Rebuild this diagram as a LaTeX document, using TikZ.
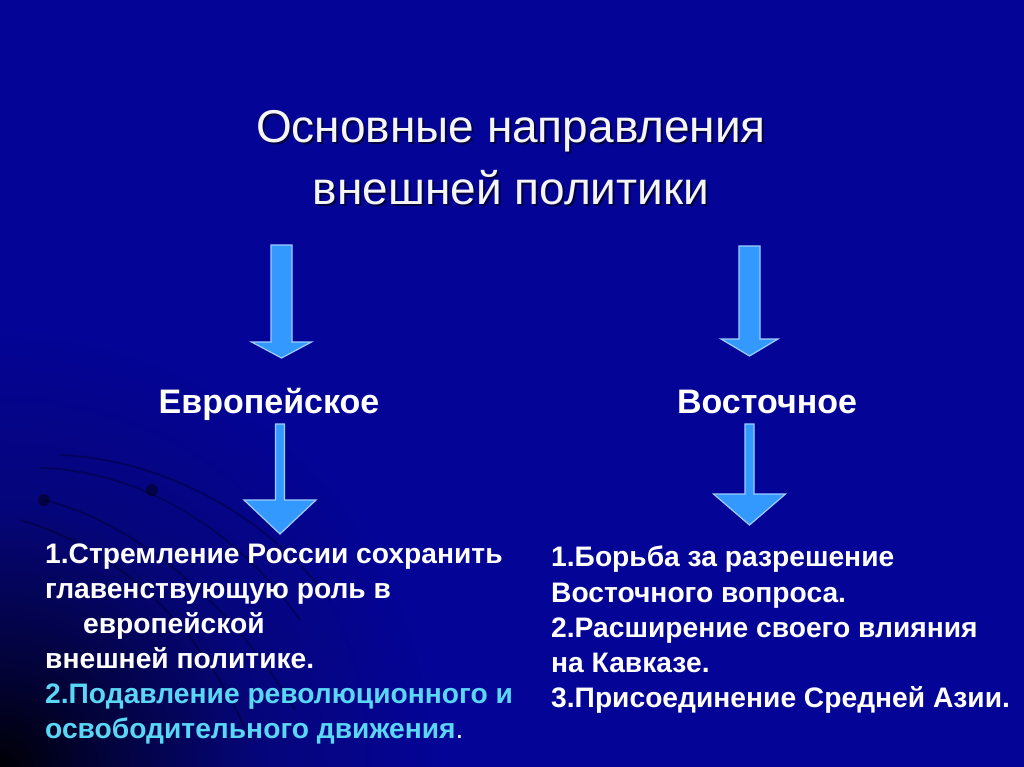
\documentclass[tikz,border=0pt]{standalone}
\usepackage{fontspec}
\setmainfont{Liberation Sans}
\definecolor{bgblue}{RGB}{4,4,150}
\definecolor{arrowfill}{RGB}{51,153,255}
\definecolor{arrowedge}{RGB}{160,205,255}
\definecolor{cyantext}{RGB}{90,215,245}
\definecolor{titlewhite}{RGB}{245,245,245}
\pgfdeclareradialshading{cornershade}{\pgfpoint{0bp}{0bp}}{rgb(0bp)=(0,0,0.02); rgb(5bp)=(0.01,0.01,0.22); rgb(13bp)=(0.02,0.02,0.48); rgb(22bp)=(0.016,0.016,0.588); rgb(50bp)=(0.016,0.016,0.588)}
\tikzset{
  blockarrow/.style={fill=arrowfill, draw=arrowedge, line width=1.2pt, line join=miter},
  titletext/.style={font=\fontsize{46}{50}\selectfont, text=titlewhite, inner sep=0pt, anchor=base},
  titleshadow/.style={font=\fontsize{46}{50}\selectfont, text=black, opacity=0.55, inner sep=0pt, anchor=base},
  labeltext/.style={font=\fontsize{34}{38}\selectfont\bfseries, text=white, inner sep=0pt, anchor=base},
  bodytext/.style={font=\fontsize{28.2}{32}\selectfont\bfseries, text=white, inner sep=0pt, anchor=base west},
  cyanline/.style={bodytext, text=cyantext},
  decocurve/.style={draw=black, opacity=0.3, line width=1.8pt},
  decodot/.style={fill=black, opacity=0.45}
}
% #1 centre x, #2 half shaft, #3 top, #4 head base, #5 half head, #6 tip
\newcommand\downarrowshape[6]{%
  \filldraw[blockarrow] ({#1-#2},#3) -- ({#1+#2},#3) -- ({#1+#2},#4) -- ({#1+#5},#4)
    -- (#1,#6) -- ({#1-#5},#4) -- ({#1-#2},#4) -- cycle;}
\begin{document}
\begin{tikzpicture}[x=1pt,y=-1pt]
\useasboundingbox (0,0) rectangle (1024,767);
\fill[bgblue] (0,0) rectangle (1024,767);
\begin{scope}
  \clip (0,0) rectangle (1024,767);
  \shade[shading=cornershade] (0,767) circle (500);
  % decorative curves
  \draw[decocurve] (40,468) .. controls (130,470) and (230,520) .. (300,620);
  \draw[decocurve] (43,500) .. controls (130,520) and (230,600) .. (295,710);
  \draw[decocurve] (20,520) .. controls (110,545) and (200,620) .. (250,740);
  \draw[decocurve] (60,455) .. controls (170,460) and (270,520) .. (330,600);
  \fill[decodot] (44,500) circle (6);
  \fill[decodot] (152,490) circle (6);
\end{scope}

% title
\node[titleshadow] (ts1) at (513,145) {Основные направления};
\node[titleshadow] (ts2) at (513,207) {внешней политики};
\node[titletext] (t1) at (511,143) {Основные направления};
\node[titletext] (t2) at (511,205) {внешней политики};

% arrows
\downarrowshape{281.5}{10.5}{245}{342}{30}{358}
\downarrowshape{749.5}{10.5}{246}{339}{28.5}{356}

% labels
\node[labeltext] (eu) at (269,413) {Европейское};
\node[labeltext] (ea) at (767,413) {Восточное};

\downarrowshape{280}{4.5}{424}{500}{36}{534}
\downarrowshape{749.5}{4.5}{424}{494}{36}{525}

% left block
\node[bodytext] (l1) at (45,563) {1.Стремление России сохранить};
\node[bodytext] (l2) at (45,598) {главенствующую роль в};
\node[bodytext] (l3) at (83,633) {европейской};
\node[bodytext] (l4) at (45,668) {внешней политике.};
\node[cyanline] (l5) at (45,703) {2.Подавление революционного и};
\node[cyanline] (l6) at (45,738) {освободительного движения\textcolor{white!90!cyantext}{\mdseries.}};

% right block
\node[bodytext] (r1) at (551,566) {1.Борьба за разрешение};
\node[bodytext] (r2) at (551,602) {Восточного вопроса.};
\node[bodytext] (r3) at (551,637) {2.Расширение своего влияния};
\node[bodytext] (r4) at (551,672) {на Кавказе.};
\node[bodytext] (r5) at (551,707) {3.Присоединение Средней Азии.};
\end{tikzpicture}
\end{document}
